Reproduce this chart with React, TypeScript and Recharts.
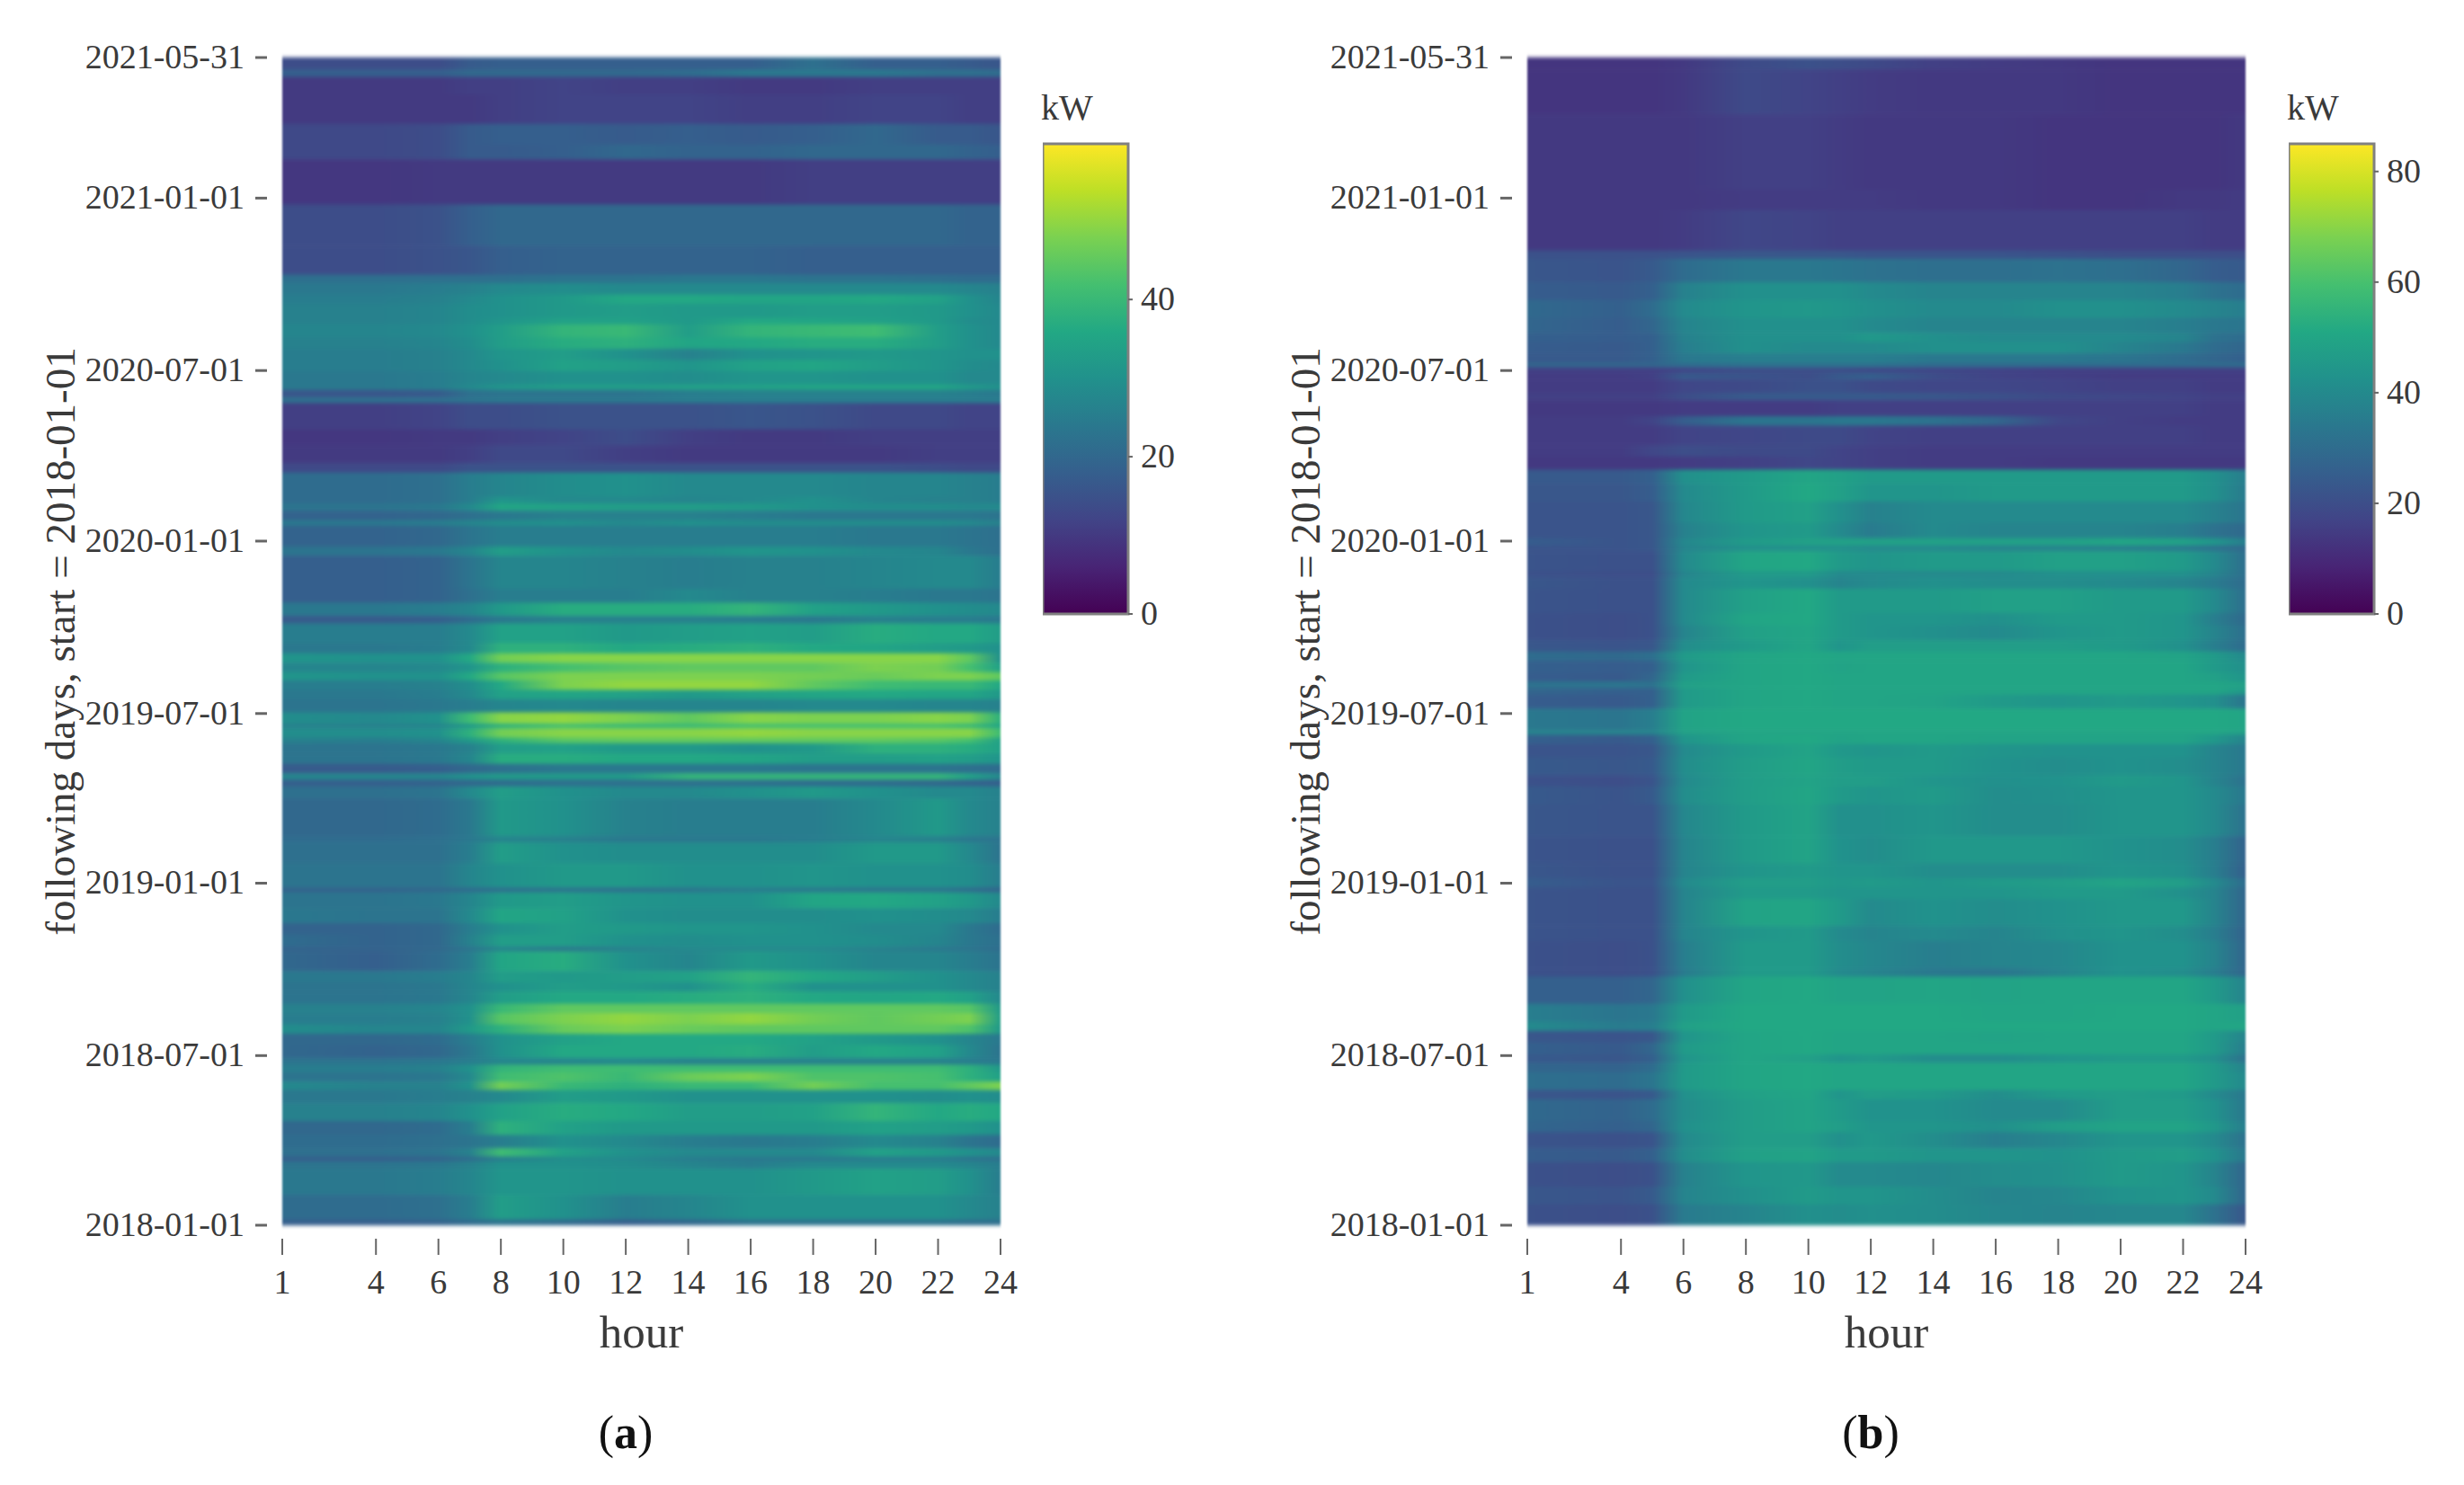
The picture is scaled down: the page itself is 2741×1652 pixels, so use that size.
import React from 'react'
import { ScatterChart, Scatter, BarChart, Bar, XAxis, YAxis } from 'recharts'

const FONT = '"Liberation Serif", serif'
const TEXT = '#3a3a3a'

const hourTicks = [1, 4, 6, 8, 10, 12, 14, 16, 18, 20, 22, 24]
const dayTicks = [0, 181, 365, 546, 730, 912, 1096, 1246]
const dayLabels = ['2018-01-01', '2018-07-01', '2019-01-01', '2019-07-01', '2020-01-01', '2020-07-01', '2021-01-01', '2021-05-31']
const viridis = ['#440154', '#482475', '#414487', '#355f8d', '#2a788e', '#21918c', '#22a884', '#44bf70', '#7ad151', '#bddf26', '#fde725']

const barTicksA = [0, 20, 40]
const barTicksB = [0, 20, 40, 60, 80]
const maxA = 59.8
const maxB = 85

// hours where each row's value was read
const hoursA = [1, 4, 6, 7, 8, 10, 12, 14, 16, 18, 20, 22, 23, 24]
const hoursB = [1, 4, 5, 6, 8, 10, 11, 12, 14, 16, 18, 20, 22, 23, 24]

// day at the top edge of each row, top of the picture first
const rowTopsA = [1246, 1233, 1225, 1206, 1175, 1153, 1137, 1089, 1045, 1014, 1005, 993, 983, 968, 961, 947, 935, 923, 911, 897, 891, 883, 877, 849, 832, 813, 803, 777, 770, 762, 752, 746, 724, 714, 679, 664, 650, 642, 621, 610, 600, 590, 581, 571, 561, 547, 535, 530, 520, 514, 503, 492, 482, 475, 468, 455, 415, 408, 386, 360, 355, 338, 322, 310, 297, 292, 271, 259, 249, 236, 226, 214, 204, 192, 178, 171, 163, 153, 144, 130, 111, 96, 82, 73, 68, 60, 32, 6]
const valuesA = [
  [14, 14, 14, 17, 18, 18, 18, 18, 18, 22, 18, 18, 17, 16],
  [18, 18, 18, 20, 20, 20, 20, 21, 24, 24, 24, 22, 22, 21],
  [10, 10, 10, 11, 11, 12, 11, 11, 10, 10, 11, 11, 11, 11],
  [10, 10, 10, 10, 11, 12, 12, 12, 11, 11, 12, 12, 11, 11],
  [13, 13, 14, 17, 18, 18, 17, 18, 17, 18, 20, 17, 17, 16],
  [13, 13, 14, 17, 17, 18, 20, 19, 19, 20, 20, 20, 19, 18],
  [9.5, 9.5, 10, 10, 10, 10, 10, 10, 10, 11, 11, 11, 11, 11],
  [14, 14, 15, 18, 20, 20, 20, 20, 20, 20, 20, 20, 19, 19],
  [14, 14, 15, 16, 18, 19, 19, 19, 19, 18, 18, 18, 18, 18],
  [22, 22, 22, 22, 22, 23, 23, 24, 24, 23, 23, 22, 21, 21],
  [24, 24, 25, 26, 28, 29, 28, 28, 28, 28, 28, 28, 27, 26],
  [25, 25, 26, 28, 30, 32, 36, 36, 35, 35, 36, 34, 30, 27],
  [26, 26, 27, 29, 30, 32, 33, 32, 32, 33, 33, 32, 30, 28],
  [26, 26, 27, 29, 31, 34, 34, 32, 36, 35, 34, 32, 29, 28],
  [27, 27, 28, 30, 33, 39, 40, 33, 39, 40, 41, 33, 30, 28],
  [26, 26, 27, 29, 33, 37, 38, 35, 36, 37, 37, 33, 30, 28],
  [25, 25, 26, 28, 31, 33, 30, 26, 30, 31, 32, 31, 30, 30],
  [25, 25, 26, 28, 30, 34, 33, 31, 34, 35, 33, 31, 29, 28],
  [24, 24, 25, 27, 28, 30, 30, 29, 31, 31, 30, 30, 28, 28],
  [24, 24, 25, 28, 31, 33, 33, 34, 34, 35, 35, 35, 32, 30],
  [16, 16, 17, 22, 23, 23, 23, 25, 26, 26, 26, 26, 25, 24],
  [22, 22, 22, 23, 24, 24, 24, 25, 25, 25, 25, 25, 25, 25],
  [11, 11, 12, 14, 14, 15, 15, 15, 16, 15, 13, 13, 12, 12],
  [9.5, 9.5, 10, 10, 11, 12, 14, 11, 10, 10, 11, 11, 11, 11],
  [10, 10, 10, 11, 13, 13, 11, 10, 10, 10, 10, 11, 11, 11],
  [13, 13, 13, 15, 15, 15, 15, 15, 15, 15, 15, 14, 13, 13],
  [21, 21, 22, 25, 27, 29, 30, 28, 28, 28, 27, 27, 26, 25],
  [21, 21, 22, 25, 31, 28, 28, 27, 28, 30, 27, 26, 26, 25],
  [23, 23, 24, 28, 35, 34, 33, 33, 32, 30, 29, 29, 28, 28],
  [19, 19, 20, 22, 24, 26, 26, 26, 25, 24, 24, 24, 24, 23],
  [24, 24, 25, 27, 29, 30, 28, 30, 29, 29, 29, 29, 28, 26],
  [19, 19, 20, 23, 25, 25, 25, 25, 25, 25, 24, 24, 23, 22],
  [23, 23, 24, 27, 33, 30, 28, 29, 31, 30, 28, 27, 24, 22],
  [18, 18, 19, 23, 27, 27, 26, 25, 26, 26, 27, 28, 28, 25],
  [18, 18, 19, 22, 25, 25, 25, 28, 26, 26, 25, 24, 24, 23],
  [24, 24, 25, 27, 32, 37, 37, 37, 39, 34, 32, 30, 29, 28],
  [17, 17, 18, 21, 24, 26, 26, 26, 25, 24, 26, 25, 25, 24],
  [25, 25, 25, 28, 34, 34, 32, 33, 34, 33, 37, 36, 36, 33],
  [24, 24, 25, 28, 38, 38, 36, 37, 38, 36, 35, 33, 32, 30],
  [31, 30, 30, 36, 47, 49, 49, 49, 49, 49, 49, 49, 45, 30],
  [27, 27, 28, 31, 38, 42, 44, 45, 45, 45, 48, 47, 42, 34],
  [31, 30, 30, 36, 44, 48, 48, 48, 48, 47, 46, 48, 48, 45],
  [25, 25, 26, 29, 36, 48, 50, 50, 50, 45, 41, 40, 40, 36],
  [24, 24, 25, 28, 34, 35, 34, 32, 34, 35, 36, 35, 35, 32],
  [23, 23, 24, 25, 27, 28, 27, 27, 27, 28, 28, 27, 27, 26],
  [29, 28, 30, 41, 49, 50, 48, 45, 49, 48, 48, 49, 48, 38],
  [26, 26, 27, 32, 38, 42, 40, 40, 42, 42, 42, 42, 40, 35],
  [29, 29, 30, 38, 47, 49, 49, 49, 50, 49, 49, 49, 49, 41],
  [26, 25, 27, 32, 38, 44, 45, 45, 45, 45, 45, 44, 42, 34],
  [23, 23, 24, 26, 33, 34, 32, 32, 30, 32, 38, 38, 37, 34],
  [23, 23, 24, 27, 37, 37, 36, 36, 35, 33, 33, 34, 33, 31],
  [17, 17, 18, 20, 22, 24, 24, 24, 24, 23, 23, 23, 22, 21],
  [27, 27, 27, 30, 32, 32, 32, 39, 39, 39, 39, 39, 34, 28],
  [18, 18, 19, 20, 21, 22, 22, 22, 22, 21, 21, 20, 19, 18],
  [22, 22, 23, 28, 33, 30, 28, 28, 30, 32, 30, 28, 28, 26],
  [20, 20, 21, 24, 32, 30, 26, 25, 25, 25, 28, 32, 28, 26],
  [21, 21, 22, 24, 27, 26, 24, 24, 24, 25, 27, 26, 24, 23],
  [22, 22, 22, 25, 33, 30, 29, 29, 29, 29, 32, 32, 28, 23],
  [23, 23, 23, 27, 30, 32, 32, 30, 30, 31, 30, 30, 29, 25],
  [19, 19, 20, 21, 22, 23, 22, 23, 25, 24, 23, 23, 21, 19],
  [23, 23, 24, 27, 32, 33, 31, 30, 30, 35, 36, 34, 32, 28],
  [24, 23, 23, 28, 35, 34, 30, 29, 29, 29, 30, 29, 28, 25],
  [19, 19, 20, 25, 30, 33, 32, 31, 31, 30, 28, 28, 24, 21],
  [21, 19, 20, 26, 33, 33, 30, 29, 30, 30, 29, 27, 24, 22],
  [19, 19, 20, 23, 27, 24, 26, 28, 28, 28, 26, 24, 23, 21],
  [20, 18, 21, 25, 35, 37, 30, 27, 32, 30, 27, 27, 25, 23],
  [24, 24, 25, 27, 33, 32, 33, 34, 39, 36, 33, 30, 28, 26],
  [23, 23, 24, 27, 30, 33, 32, 30, 37, 30, 30, 30, 28, 26],
  [23, 23, 24, 27, 33, 36, 36, 37, 38, 36, 35, 36, 34, 28],
  [26, 26, 27, 30, 40, 45, 45, 45, 45, 45, 45, 45, 44, 32],
  [25, 25, 26, 30, 44, 48, 50, 48, 50, 47, 45, 47, 48, 33],
  [29, 27, 27, 32, 38, 46, 48, 46, 45, 45, 45, 45, 43, 32],
  [20, 20, 21, 25, 30, 34, 36, 36, 36, 34, 32, 30, 27, 24],
  [20, 19, 20, 24, 30, 36, 36, 36, 37, 33, 36, 34, 28, 23],
  [23, 23, 24, 25, 27, 27, 28, 26, 26, 26, 26, 26, 25, 24],
  [25, 25, 26, 30, 39, 41, 41, 41, 41, 41, 41, 41, 38, 32],
  [23, 23, 24, 28, 41, 43, 40, 46, 48, 43, 43, 42, 38, 34],
  [28, 26, 26, 30, 47, 40, 38, 40, 40, 47, 42, 42, 45, 48],
  [24, 24, 25, 26, 28, 33, 32, 30, 30, 30, 30, 29, 30, 29],
  [26, 26, 27, 30, 34, 37, 36, 33, 33, 34, 39, 36, 37, 36],
  [20, 20, 21, 25, 38, 34, 32, 32, 32, 32, 34, 33, 32, 30],
  [21, 21, 22, 23, 25, 30, 28, 25, 24, 25, 28, 26, 23, 21],
  [22, 22, 23, 26, 41, 34, 30, 28, 28, 28, 34, 32, 30, 28],
  [18, 18, 19, 21, 25, 29, 28, 25, 24, 24, 25, 25, 23, 22],
  [23, 23, 24, 26, 30, 30, 29, 27, 25, 28, 28, 28, 27, 25],
  [24, 24, 25, 27, 31, 31, 30, 30, 30, 32, 34, 33, 30, 25],
  [21, 21, 22, 25, 33, 30, 25, 27, 30, 30, 30, 30, 28, 26],
  [18, 18, 19, 21, 23, 21, 18, 20, 23, 23, 23, 23, 22, 22],
]

const rowTopsB = [1246, 1233, 1185, 1105, 1083, 1040, 1031, 1006, 987, 968, 952, 942, 930, 920, 915, 909, 902, 888, 880, 863, 853, 832, 820, 806, 791, 772, 749, 733, 725, 719, 698, 691, 679, 653, 640, 624, 612, 602, 589, 580, 573, 566, 551, 528, 523, 513, 499, 480, 468, 449, 415, 386, 370, 360, 348, 319, 303, 274, 265, 236, 217, 207, 195, 182, 173, 163, 144, 134, 111, 99, 82, 67, 41, 22]
const valuesB = [
  [13, 13, 13, 14, 19, 21, 20, 19, 16, 15, 14, 13, 13, 13, 13],
  [13, 13, 13, 14, 19, 17, 16, 15, 14, 14, 14, 13, 13, 13, 13],
  [14, 14, 14, 14, 16, 16, 15, 14, 14, 14, 13, 13, 13, 13, 14],
  [14, 14, 14, 14, 15, 15, 15, 15, 14, 14, 13, 13, 14, 14, 15],
  [14, 14, 14, 15, 18, 17, 16, 16, 16, 16, 16, 16, 16, 15, 15],
  [21, 21, 21, 22, 23, 23, 23, 22, 22, 22, 21, 20, 20, 20, 20],
  [23, 22, 24, 30, 34, 34, 33, 32, 31, 31, 32, 31, 28, 25, 24],
  [25, 24, 26, 37, 42, 42, 42, 40, 38, 38, 38, 38, 36, 32, 30],
  [29, 26, 30, 40, 44, 45, 44, 42, 40, 40, 42, 42, 40, 38, 36],
  [28, 25, 28, 38, 42, 42, 42, 40, 38, 38, 38, 38, 36, 34, 33],
  [26, 25, 26, 37, 42, 42, 42, 45, 42, 40, 40, 40, 38, 32, 30],
  [25, 24, 26, 36, 42, 40, 40, 40, 42, 42, 42, 38, 34, 30, 28],
  [24, 24, 26, 34, 36, 36, 36, 36, 34, 34, 34, 33, 30, 28, 26],
  [28, 28, 28, 30, 32, 32, 32, 32, 30, 30, 30, 30, 30, 30, 30],
  [16, 16, 16, 18, 20, 20, 20, 19, 18, 17, 16, 16, 16, 16, 16],
  [15, 15, 16, 24, 22, 20, 24, 26, 20, 17, 16, 15, 15, 15, 15],
  [15, 15, 15, 18, 19, 21, 21, 19, 18, 18, 17, 16, 16, 15, 15],
  [16, 16, 16, 20, 24, 24, 24, 24, 23, 21, 19, 18, 17, 16, 16],
  [14, 14, 14, 15, 15, 15, 16, 16, 16, 16, 16, 16, 16, 15, 15],
  [15, 15, 17, 25, 33, 33, 34, 34, 32, 28, 18, 16, 15, 15, 15],
  [15, 15, 15, 17, 18, 19, 19, 17, 16, 16, 16, 16, 16, 15, 15],
  [15, 15, 18, 20, 19, 19, 17, 16, 15, 15, 15, 15, 15, 15, 15],
  [14, 14, 14, 15, 16, 18, 17, 16, 15, 15, 14, 14, 14, 14, 14],
  [24, 24, 26, 42, 46, 50, 48, 46, 46, 46, 46, 46, 46, 42, 36],
  [23, 23, 25, 40, 46, 51, 48, 44, 44, 46, 46, 46, 46, 42, 35],
  [22, 22, 23, 39, 46, 48, 42, 37, 40, 40, 40, 40, 40, 37, 33],
  [22, 22, 23, 37, 44, 46, 40, 35, 40, 38, 38, 38, 36, 32, 29],
  [25, 22, 23, 39, 46, 48, 48, 48, 48, 48, 48, 50, 48, 44, 36],
  [22, 22, 23, 38, 42, 42, 42, 40, 40, 38, 38, 37, 35, 32, 29],
  [22, 21, 21, 40, 50, 51, 46, 44, 46, 46, 48, 48, 46, 40, 31],
  [21, 20, 20, 38, 46, 46, 40, 40, 40, 40, 42, 42, 42, 38, 31],
  [23, 21, 21, 40, 44, 42, 38, 40, 42, 41, 41, 40, 38, 35, 30],
  [22, 21, 21, 40, 48, 51, 46, 46, 46, 48, 48, 46, 46, 40, 31],
  [21, 20, 21, 40, 50, 51, 46, 44, 44, 42, 46, 46, 44, 36, 29],
  [21, 20, 21, 38, 48, 50, 46, 44, 42, 40, 44, 46, 44, 38, 31],
  [23, 22, 23, 41, 46, 50, 44, 47, 47, 47, 47, 46, 42, 36, 30],
  [30, 29, 31, 46, 50, 51, 50, 50, 50, 50, 50, 50, 49, 46, 40],
  [26, 25, 26, 44, 50, 51, 49, 50, 50, 50, 50, 50, 50, 46, 42],
  [25, 24, 28, 46, 50, 51, 50, 50, 50, 50, 50, 50, 50, 48, 44],
  [32, 33, 32, 48, 50, 51, 50, 50, 50, 50, 50, 50, 50, 50, 48],
  [28, 26, 26, 46, 50, 51, 50, 50, 50, 50, 50, 50, 50, 50, 46],
  [25, 24, 26, 46, 50, 51, 50, 50, 49, 46, 44, 46, 44, 42, 33],
  [34, 33, 36, 49, 51, 51, 51, 51, 51, 51, 51, 51, 51, 51, 50],
  [38, 38, 38, 48, 50, 50, 50, 50, 50, 50, 50, 50, 50, 50, 48],
  [26, 24, 26, 44, 50, 51, 49, 50, 50, 49, 49, 49, 49, 45, 38],
  [22, 22, 23, 40, 46, 49, 45, 44, 46, 44, 43, 43, 43, 38, 34],
  [24, 23, 24, 41, 47, 50, 47, 46, 46, 43, 41, 43, 41, 38, 34],
  [21, 20, 22, 40, 47, 49, 47, 47, 44, 42, 43, 46, 44, 38, 32],
  [24, 22, 24, 41, 47, 50, 46, 44, 46, 41, 42, 44, 44, 40, 34],
  [23, 22, 22, 39, 46, 49, 42, 42, 44, 41, 41, 44, 44, 40, 32],
  [22, 21, 21, 38, 46, 49, 43, 41, 45, 45, 45, 43, 41, 36, 27],
  [23, 21, 21, 38, 44, 46, 44, 44, 41, 41, 41, 44, 42, 36, 26],
  [25, 22, 22, 40, 47, 47, 45, 46, 44, 46, 47, 49, 47, 40, 30],
  [22, 21, 21, 38, 46, 46, 44, 44, 44, 44, 46, 46, 42, 38, 28],
  [22, 21, 21, 38, 49, 50, 46, 40, 43, 41, 43, 45, 45, 38, 28],
  [22, 21, 21, 38, 44, 46, 40, 38, 40, 38, 42, 44, 41, 36, 27],
  [21, 20, 21, 36, 46, 46, 41, 39, 36, 38, 39, 43, 43, 38, 28],
  [21, 20, 21, 35, 46, 46, 40, 38, 34, 33, 38, 43, 41, 36, 28],
  [26, 26, 28, 42, 50, 51, 49, 49, 50, 49, 50, 50, 50, 46, 38],
  [36, 33, 34, 46, 51, 51, 51, 51, 51, 50, 50, 51, 51, 50, 48],
  [40, 35, 36, 48, 51, 51, 51, 51, 51, 51, 51, 51, 51, 50, 50],
  [23, 22, 23, 44, 50, 51, 50, 50, 50, 49, 50, 50, 50, 46, 38],
  [26, 24, 28, 46, 50, 51, 50, 50, 50, 50, 50, 50, 50, 46, 36],
  [24, 23, 26, 44, 50, 48, 44, 46, 41, 41, 44, 46, 46, 42, 32],
  [28, 27, 30, 46, 50, 51, 50, 50, 50, 50, 50, 50, 50, 46, 38],
  [31, 30, 33, 46, 50, 51, 50, 50, 50, 50, 50, 50, 50, 46, 40],
  [23, 22, 24, 42, 48, 50, 44, 47, 46, 41, 46, 47, 46, 40, 34],
  [29, 27, 30, 41, 47, 49, 46, 43, 43, 40, 40, 47, 47, 43, 34],
  [28, 26, 28, 42, 47, 49, 47, 44, 44, 42, 47, 49, 49, 45, 36],
  [22, 21, 22, 40, 47, 47, 42, 45, 41, 36, 39, 44, 44, 40, 32],
  [25, 24, 26, 41, 48, 49, 46, 46, 44, 44, 43, 46, 47, 43, 34],
  [21, 20, 21, 37, 44, 45, 40, 40, 39, 41, 42, 46, 44, 38, 28],
  [23, 22, 24, 38, 42, 46, 44, 44, 41, 38, 39, 43, 44, 40, 28],
  [21, 20, 21, 35, 38, 42, 41, 42, 41, 39, 38, 39, 39, 32, 23],
]

const PLOT_W = 799
const PLOT_H = 1299
const PX_PER_DAY = PLOT_H / 1246

const hexToRgb = (h: string) => [1, 3, 5].map(i => parseInt(h.slice(i, i + 2), 16))
const colorOf = (v: number, max: number) => {
  const t = Math.min(1, Math.max(0, v / max)) * (viridis.length - 1)
  const i = Math.min(viridis.length - 2, Math.floor(t))
  const a = hexToRgb(viridis[i])
  const b = hexToRgb(viridis[i + 1])
  const f = t - i
  return `rgb(${a.map((c, k) => Math.round(c + (b[k] - c) * f)).join(',')})`
}

const buildRows = (tops: number[], values: number[][]) =>
  tops.map((top, i) => {
    const bottom = i + 1 < tops.length ? tops[i + 1] : 0
    return { hour: 12.5, day: (top + bottom) / 2, top, bottom, values: values[i] }
  })

// one strip per row, coloured hour by hour
const RowStrip = ({ cx, cy, payload, hours, max, prefix }: any) => {
  const h = (payload.top - payload.bottom) * PX_PER_DAY + 0.6
  const id = `${prefix}-${payload.top}`
  return (
    <g>
      <defs>
        <linearGradient id={id} x1="0" x2="1" y1="0" y2="0">
          {hours.map((hr: number, k: number) => (
            <stop key={hr} offset={(hr - 1) / 23} stopColor={colorOf(payload.values[k], max)} />
          ))}
        </linearGradient>
      </defs>
      <rect x={cx - PLOT_W / 2} y={cy - h / 2} width={PLOT_W} height={h} fill={`url(#${id})`} />
    </g>
  )
}

const HourTick = ({ x, y, payload }: any) => (
  <g>
    <line x1={x} x2={x} y1={y + 15} y2={y + 33} stroke="#666" strokeWidth={2} />
    <text x={x} y={y + 76} textAnchor="middle" fontFamily={FONT} fontSize={38} fill={TEXT}>{payload.value}</text>
  </g>
)

const DayTick = ({ x, y, payload }: any) => (
  <g>
    <line x1={x - 30} x2={x - 17} y1={y} y2={y} stroke="#666" strokeWidth={3} />
    <text x={x - 42} y={y + 12} textAnchor="end" fontFamily={FONT} fontSize={38} fill={TEXT}>
      {dayLabels[dayTicks.indexOf(payload.value)]}
    </text>
  </g>
)

const BarTick = ({ x, y, payload }: any) => (
  <g>
    <line x1={x} x2={x + 5} y1={y} y2={y} stroke="#666" strokeWidth={2} />
    <text x={x + 14} y={y + 12} fontFamily={FONT} fontSize={38} fill={TEXT}>{payload.value}</text>
  </g>
)

const Heatmap = ({ left, hours, tops, values, max, prefix }: any) => (
  <div className="heat" style={{ position: 'absolute', left, top: 0 }}>
    <ScatterChart width={1143} height={1560} margin={{ top: 64, right: 30, bottom: 0, left: 0 }}>
      <XAxis
        type="number"
        dataKey="hour"
        domain={[1, 24]}
        ticks={hourTicks}
        interval={0}
        height={197}
        tickSize={0}
        tickMargin={0}
        axisLine={false}
        tick={<HourTick />}
        label={{ value: 'hour', position: 'insideTop', offset: 100, fontFamily: FONT, fontSize: 51, fill: TEXT }}
      />
      <YAxis
        type="number"
        dataKey="day"
        domain={[0, 1246]}
        ticks={dayTicks}
        interval={0}
        width={314}
        tickSize={0}
        tickMargin={0}
        axisLine={false}
        tick={<DayTick />}
        label={{
          value: 'following days, start = 2018-01-01',
          angle: -90,
          position: 'insideLeft',
          offset: 66,
          fontFamily: FONT,
          fontSize: 47,
          fill: TEXT,
          style: { textAnchor: 'middle' },
        }}
      />
      <Scatter
        data={buildRows(tops, values)}
        isAnimationActive={false}
        shape={<RowStrip hours={hours} max={max} prefix={prefix} />}
      />
    </ScatterChart>
  </div>
)

const ColorBar = ({ left, max, ticks }: any) => (
  <div style={{ position: 'absolute', left, top: 130 }}>
    <BarChart
      width={175}
      height={583}
      data={[{ name: 'kW', value: max }]}
      margin={{ top: 30, right: 0, bottom: 30, left: 0 }}
      barCategoryGap={0}
    >
      <XAxis dataKey="name" hide />
      <YAxis
        orientation="right"
        type="number"
        domain={[0, max]}
        ticks={ticks}
        interval={0}
        width={80}
        tickSize={0}
        tickMargin={0}
        axisLine={false}
        tick={<BarTick />}
      />
      <Bar dataKey="value" fill="url(#viridisBar)" stroke="#808080" strokeWidth={3} isAnimationActive={false} />
    </BarChart>
    <div style={{ position: 'absolute', left: -2, top: -32, fontFamily: FONT, fontSize: 40, color: TEXT, lineHeight: '44px' }}>kW</div>
  </div>
)

const Caption = ({ x, letter }: any) => (
  <div style={{ position: 'absolute', left: x - 60, width: 120, top: 1564, textAlign: 'center', fontFamily: FONT, fontSize: 52, color: '#111', lineHeight: '60px' }}>
    (<b>{letter}</b>)
  </div>
)

export default function App() {
  return (
    <div style={{ position: 'absolute', left: 0, top: 0, width: 2741, height: 1652, background: '#fff', overflow: 'hidden' }}>
      <style>{`.heat .recharts-scatter { filter: url(#rowBlur); }`}</style>
      <svg width={0} height={0} style={{ position: 'absolute' }}>
        <defs>
          <filter id="rowBlur" x="-2%" y="-2%" width="104%" height="104%" colorInterpolationFilters="sRGB">
            <feGaussianBlur stdDeviation="1 2.2" />
          </filter>
          <linearGradient id="viridisBar" x1="0" x2="0" y1="1" y2="0">
            {viridis.map((c, i) => <stop key={c} offset={i / (viridis.length - 1)} stopColor={c} />)}
          </linearGradient>
        </defs>
      </svg>
      <Heatmap left={0} hours={hoursA} tops={rowTopsA} values={valuesA} max={maxA} prefix="a" />
      <Heatmap left={1385} hours={hoursB} tops={rowTopsB} values={valuesB} max={maxB} prefix="b" />
      <ColorBar left={1160} max={maxA} ticks={barTicksA} />
      <ColorBar left={2546} max={maxB} ticks={barTicksB} />
      <Caption x={696} letter="a" />
      <Caption x={2081} letter="b" />
    </div>
  )
}
